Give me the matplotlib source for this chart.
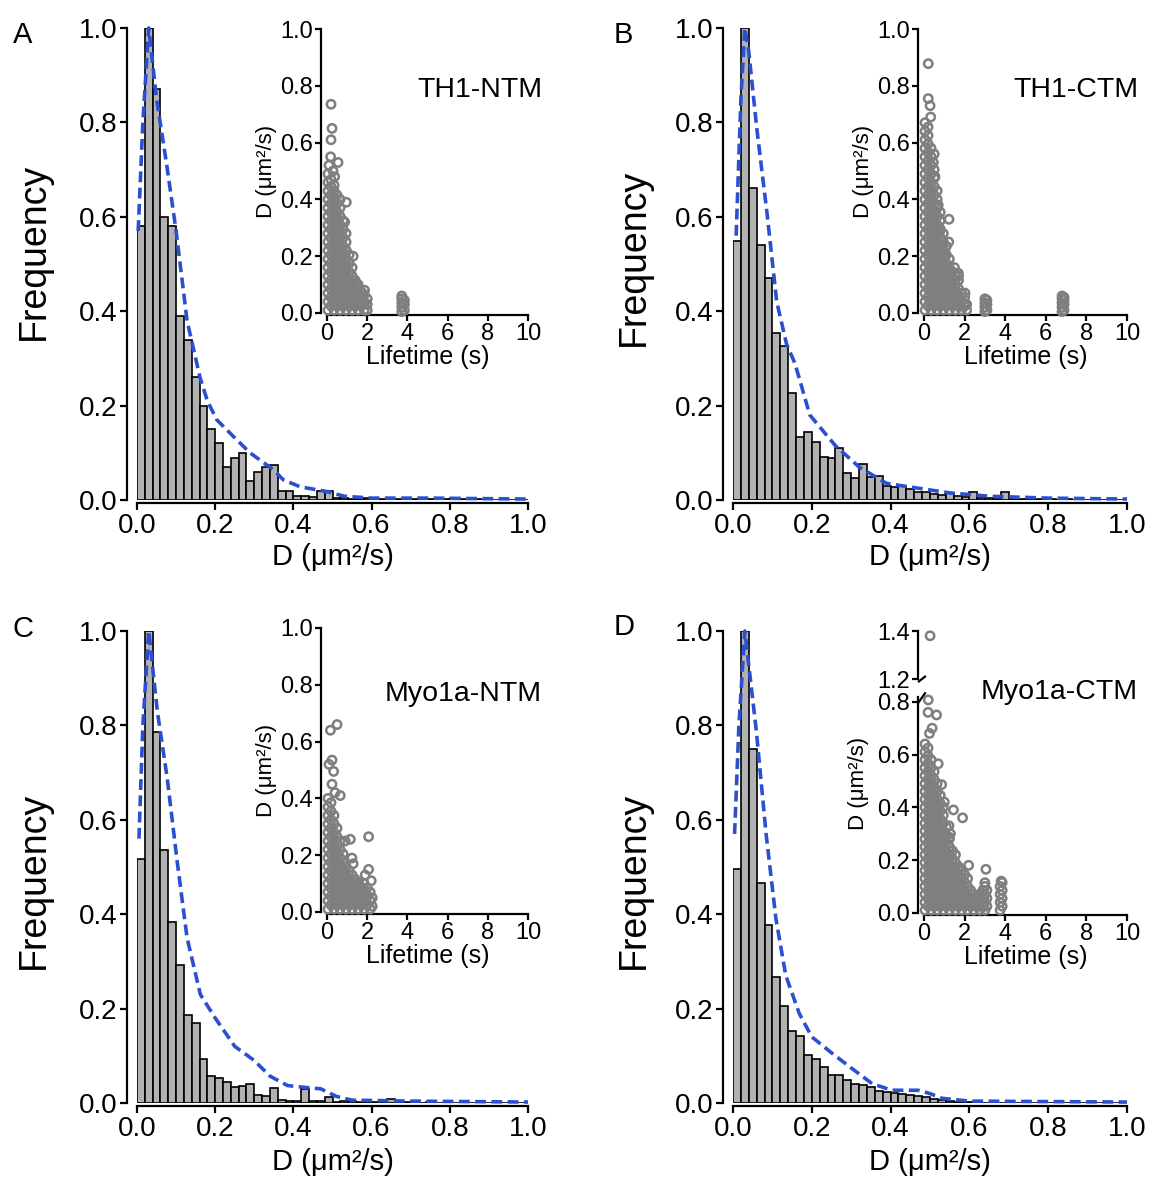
import matplotlib
matplotlib.use("Agg")
import matplotlib.pyplot as plt
import numpy as np

plt.rcParams['font.family'] = ['Liberation Sans', 'DejaVu Sans']

W, H = 1149, 1188

# ---- histogram data (bin width 0.02, 0..1) ----
bin_edges = [i * 0.02 for i in range(51)]

freq_A = [0.58, 1.00, 0.87, 0.60, 0.58, 0.39, 0.34, 0.26, 0.20, 0.15,
          0.12, 0.07, 0.09, 0.10, 0.04, 0.06, 0.07, 0.075, 0.02, 0.02,
          0.008, 0.008, 0.006, 0.02, 0.02, 0.005, 0.004, 0.003, 0.002, 0.004,
          0.002, 0.002, 0.003, 0.002, 0.002, 0.003, 0.002, 0.002, 0.001, 0.002,
          0.004, 0.002, 0.001, 0.002, 0.001, 0.001, 0.001, 0.001, 0.001, 0.001]
freq_B = [0.548, 1.0, 0.66, 0.54, 0.47, 0.354, 0.326, 0.226, 0.133, 0.145,
          0.123, 0.092, 0.088, 0.11, 0.057, 0.046, 0.076, 0.049, 0.05, 0.03,
          0.028, 0.03, 0.024, 0.017, 0.016, 0.012, 0.01, 0.014, 0.008, 0.007,
          0.017, 0.004, 0.005, 0.003, 0.017, 0.003, 0.002, 0.002, 0.002, 0.002,
          0.003, 0.001, 0.002, 0.001, 0.001, 0.001, 0.001, 0.001, 0.001, 0.001]
freq_C = [0.516, 1.0, 0.785, 0.536, 0.383, 0.292, 0.186, 0.17, 0.093, 0.057,
          0.054, 0.045, 0.033, 0.035, 0.041, 0.018, 0.014, 0.032, 0.006, 0.004,
          0.004, 0.03, 0.004, 0.005, 0.012, 0.003, 0.005, 0.004, 0.003, 0.002,
          0.003, 0.002, 0.008, 0.002, 0.002, 0.002, 0.001, 0.002, 0.001, 0.001,
          0.001, 0.001, 0.001, 0.001, 0.001, 0.001, 0.001, 0.001, 0.001, 0.001]
freq_D = [0.496, 1.0, 0.749, 0.467, 0.377, 0.268, 0.206, 0.153, 0.141, 0.101,
          0.093, 0.077, 0.059, 0.059, 0.049, 0.041, 0.039, 0.033, 0.025, 0.024,
          0.022, 0.02, 0.018, 0.015, 0.013, 0.008, 0.006, 0.004, 0.003, 0.002,
          0.002, 0.001, 0.001, 0.001, 0.001, 0.001, 0.001, 0.001, 0.001, 0.001,
          0.001, 0.001, 0.001, 0.001, 0.001, 0.001, 0.001, 0.001, 0.001, 0.001]

# ---- fitted curves (blue dashed) ----
fit_A_x = [0.003, 0.015, 0.03, 0.05, 0.076, 0.10, 0.128, 0.161, 0.18, 0.204, 0.246, 0.289,
           0.349, 0.374, 0.417, 0.485, 0.53, 0.6, 0.75, 1.0]
fit_A_y = [0.57, 0.8, 1.0, 0.85, 0.71, 0.57, 0.38, 0.26, 0.21, 0.17, 0.135, 0.10,
           0.064, 0.043, 0.028, 0.018, 0.008, 0.004, 0.004, 0.002]
fit_B_x = [0.008, 0.02, 0.03, 0.04, 0.06, 0.086, 0.111, 0.136, 0.157, 0.195, 0.26, 0.32,
           0.39, 0.47, 0.55, 0.65, 0.8, 1.0]
fit_B_y = [0.56, 0.85, 1.0, 0.95, 0.79, 0.61, 0.42, 0.33, 0.29, 0.18, 0.115, 0.07,
           0.035, 0.025, 0.015, 0.008, 0.004, 0.002]
fit_C_x = [0.005, 0.015, 0.03, 0.052, 0.077, 0.103, 0.128, 0.162, 0.2, 0.25, 0.30, 0.34,
           0.385, 0.43, 0.47, 0.51, 0.55, 0.7, 1.0]
fit_C_y = [0.56, 0.8, 1.0, 0.83, 0.69, 0.51, 0.35, 0.23, 0.18, 0.12, 0.09, 0.057,
           0.037, 0.033, 0.03, 0.014, 0.006, 0.004, 0.002]
fit_D_x = [0.004, 0.015, 0.03, 0.059, 0.084, 0.109, 0.134, 0.168, 0.2, 0.252, 0.302, 0.353,
           0.403, 0.47, 0.5, 0.53, 0.6, 0.8, 1.0]
fit_D_y = [0.57, 0.8, 1.0, 0.79, 0.57, 0.39, 0.27, 0.19, 0.14, 0.105, 0.073, 0.041,
           0.027, 0.027, 0.02, 0.01, 0.004, 0.003, 0.002]

# ---- inset scatter: D vs lifetime, dense columns + outliers ----
life_A = [0.05, 0.2, 0.35, 0.5, 0.65, 0.8, 0.95, 1.1, 1.25, 1.4, 1.55, 1.7, 1.85, 2.0, 3.72, 3.85]
dcoef_A = [
    [0.01, 0.04, 0.07, 0.10, 0.13, 0.16, 0.19, 0.22, 0.25, 0.28, 0.31, 0.34, 0.37, 0.40, 0.43, 0.46, 0.49],
    [0.025, 0.055, 0.085, 0.115, 0.145, 0.175, 0.205, 0.235, 0.265, 0.295, 0.325, 0.355, 0.385, 0.415, 0.445, 0.47],
    [0.01, 0.04, 0.07, 0.10, 0.13, 0.16, 0.19, 0.22, 0.25, 0.28, 0.31, 0.34, 0.37, 0.40, 0.43, 0.45],
    [0.025, 0.055, 0.085, 0.115, 0.145, 0.175, 0.205, 0.235, 0.265, 0.295, 0.325, 0.355, 0.385, 0.415],
    [0.01, 0.04, 0.07, 0.10, 0.13, 0.16, 0.19, 0.22, 0.25, 0.28, 0.31, 0.34, 0.37, 0.40],
    [0.025, 0.055, 0.085, 0.115, 0.145, 0.175, 0.205, 0.235, 0.265, 0.295, 0.325],
    [0.01, 0.04, 0.07, 0.10, 0.13, 0.16, 0.19, 0.22, 0.25, 0.28],
    [0.025, 0.055, 0.085, 0.115, 0.145, 0.175, 0.205],
    [0.01, 0.04, 0.07, 0.10, 0.13, 0.16],
    [0.025, 0.055, 0.085, 0.115],
    [0.01, 0.04, 0.07, 0.10],
    [0.025, 0.055, 0.075],
    [0.01, 0.04, 0.065],
    [0.01, 0.03, 0.05],
    [0.005, 0.02, 0.035, 0.05, 0.06],
    [0.01, 0.03, 0.045],
]
out_A_t = [0.2, 0.25, 0.2, 0.18, 0.55, 0.38, 0.96, 0.88, 0.96, 1.3, 1.45, 1.87, 1.87, 0.1, 0.3]
out_A_d = [0.735, 0.65, 0.61, 0.55, 0.53, 0.48, 0.39, 0.32, 0.22, 0.2, 0.105, 0.08, 0.035, 0.52, 0.5]

life_B = [0.05, 0.2, 0.35, 0.5, 0.65, 0.8, 0.95, 1.1, 1.25, 1.4, 1.55, 1.7, 1.85, 2.0, 2.1,
          3.0, 3.1, 6.8, 6.9]
dcoef_B = [
    [0.01, 0.04, 0.07, 0.10, 0.13, 0.16, 0.19, 0.22, 0.25, 0.28, 0.31, 0.34, 0.37, 0.40, 0.43, 0.46,
     0.49, 0.52, 0.55, 0.58, 0.61, 0.64, 0.67],
    [0.025, 0.055, 0.085, 0.115, 0.145, 0.175, 0.205, 0.235, 0.265, 0.295, 0.325, 0.355, 0.385,
     0.415, 0.445, 0.475, 0.505, 0.535, 0.565, 0.595, 0.625, 0.655],
    [0.01, 0.04, 0.07, 0.10, 0.13, 0.16, 0.19, 0.22, 0.25, 0.28, 0.31, 0.34, 0.37, 0.40, 0.43, 0.46,
     0.49, 0.52, 0.55, 0.58],
    [0.025, 0.055, 0.085, 0.115, 0.145, 0.175, 0.205, 0.235, 0.265, 0.295, 0.325, 0.355, 0.385,
     0.415, 0.445, 0.475, 0.505],
    [0.01, 0.04, 0.07, 0.10, 0.13, 0.16, 0.19, 0.22, 0.25, 0.28, 0.31, 0.34, 0.37, 0.40, 0.43],
    [0.025, 0.055, 0.085, 0.115, 0.145, 0.175, 0.205, 0.235, 0.265, 0.295, 0.325, 0.355],
    [0.01, 0.04, 0.07, 0.10, 0.13, 0.16, 0.19, 0.22, 0.25, 0.28],
    [0.025, 0.055, 0.085, 0.115, 0.145, 0.175, 0.205, 0.235],
    [0.01, 0.04, 0.07, 0.10, 0.13, 0.16, 0.19],
    [0.025, 0.055, 0.085, 0.115, 0.145],
    [0.01, 0.04, 0.07, 0.10, 0.13],
    [0.025, 0.055, 0.085, 0.115],
    [0.01, 0.04, 0.07],
    [0.025, 0.055],
    [0.01, 0.03],
    [0.005, 0.02, 0.035, 0.05],
    [0.01, 0.03, 0.045],
    [0.005, 0.02, 0.035, 0.05, 0.06],
    [0.01, 0.03, 0.045, 0.055],
]
out_B_t = [0.21, 0.21, 0.3, 0.33, 0.46, 0.54, 0.7, 1.23, 0.79, 1.22, 1.04, 1.69, 2.02, 2.0, 0.5, 1.5, 1.7]
out_B_d = [0.878, 0.755, 0.73, 0.69, 0.53, 0.48, 0.38, 0.33, 0.29, 0.25, 0.2, 0.14, 0.07, 0.03, 0.56, 0.16, 0.13]

life_C = [0.05, 0.2, 0.35, 0.5, 0.65, 0.8, 0.95, 1.1, 1.25, 1.4, 1.55, 1.7, 1.85, 2.0, 2.15, 2.25]
dcoef_C = [
    [0.01, 0.04, 0.07, 0.10, 0.13, 0.16, 0.19, 0.22, 0.25, 0.28, 0.31, 0.34, 0.37, 0.40],
    [0.025, 0.055, 0.085, 0.115, 0.145, 0.175, 0.205, 0.235, 0.265, 0.295, 0.325, 0.355, 0.385],
    [0.01, 0.04, 0.07, 0.10, 0.13, 0.16, 0.19, 0.22, 0.25, 0.28, 0.31, 0.34],
    [0.025, 0.055, 0.085, 0.115, 0.145, 0.175, 0.205, 0.235, 0.265, 0.295],
    [0.01, 0.04, 0.07, 0.10, 0.13, 0.16, 0.19, 0.22, 0.25],
    [0.025, 0.055, 0.085, 0.115, 0.145, 0.175, 0.205],
    [0.01, 0.04, 0.07, 0.10, 0.13, 0.16],
    [0.025, 0.055, 0.085, 0.115, 0.145],
    [0.01, 0.04, 0.07, 0.10, 0.13],
    [0.025, 0.055, 0.085, 0.115],
    [0.01, 0.04, 0.07, 0.10],
    [0.025, 0.055, 0.085],
    [0.01, 0.04, 0.07, 0.10],
    [0.025, 0.055, 0.085],
    [0.01, 0.04, 0.07],
    [0.02, 0.05],
]
out_C_t = [0.17, 0.5, 0.25, 0.1, 0.33, 0.25, 0.66, 1.16, 2.07, 1.24, 2.07, 1.57, 1.9, 0.4, 0.9, 1.3, 2.2]
out_C_d = [0.64, 0.66, 0.535, 0.52, 0.495, 0.45, 0.41, 0.256, 0.265, 0.19, 0.15, 0.104, 0.13, 0.42, 0.25, 0.17, 0.11]

life_D = [0.05, 0.2, 0.35, 0.5, 0.65, 0.8, 0.95, 1.1, 1.25, 1.4, 1.55, 1.7, 1.85, 2.0, 2.15, 2.3,
          2.45, 2.6, 2.75, 2.9, 3.0, 3.1, 3.75, 3.85]
dcoef_D = [
    [0.01, 0.04, 0.07, 0.10, 0.13, 0.16, 0.19, 0.22, 0.25, 0.28, 0.31, 0.34, 0.37, 0.40, 0.43, 0.46,
     0.49, 0.52, 0.55, 0.58, 0.61, 0.64],
    [0.025, 0.055, 0.085, 0.115, 0.145, 0.175, 0.205, 0.235, 0.265, 0.295, 0.325, 0.355, 0.385,
     0.415, 0.445, 0.475, 0.505, 0.535, 0.565, 0.595, 0.625],
    [0.01, 0.04, 0.07, 0.10, 0.13, 0.16, 0.19, 0.22, 0.25, 0.28, 0.31, 0.34, 0.37, 0.40, 0.43, 0.46,
     0.49, 0.52, 0.55, 0.58],
    [0.025, 0.055, 0.085, 0.115, 0.145, 0.175, 0.205, 0.235, 0.265, 0.295, 0.325, 0.355, 0.385,
     0.415, 0.445, 0.475, 0.505, 0.535],
    [0.01, 0.04, 0.07, 0.10, 0.13, 0.16, 0.19, 0.22, 0.25, 0.28, 0.31, 0.34, 0.37, 0.40, 0.43, 0.46, 0.49],
    [0.025, 0.055, 0.085, 0.115, 0.145, 0.175, 0.205, 0.235, 0.265, 0.295, 0.325, 0.355, 0.385,
     0.415, 0.445],
    [0.01, 0.04, 0.07, 0.10, 0.13, 0.16, 0.19, 0.22, 0.25, 0.28, 0.31, 0.34, 0.37, 0.40],
    [0.025, 0.055, 0.085, 0.115, 0.145, 0.175, 0.205, 0.235, 0.265, 0.295, 0.325],
    [0.01, 0.04, 0.07, 0.10, 0.13, 0.16, 0.19, 0.22, 0.25, 0.28],
    [0.025, 0.055, 0.085, 0.115, 0.145, 0.175, 0.205, 0.235],
    [0.01, 0.04, 0.07, 0.10, 0.13, 0.16, 0.19, 0.22],
    [0.025, 0.055, 0.085, 0.115, 0.145, 0.175],
    [0.01, 0.04, 0.07, 0.10, 0.13, 0.16],
    [0.025, 0.055, 0.085, 0.115, 0.145],
    [0.01, 0.04, 0.07, 0.10, 0.13],
    [0.025, 0.055, 0.085],
    [0.01, 0.04, 0.07],
    [0.025, 0.055],
    [0.01, 0.04, 0.07],
    [0.025, 0.055, 0.085],
    [0.01, 0.04, 0.07, 0.10],
    [0.025, 0.055, 0.085],
    [0.01, 0.04, 0.07, 0.10],
    [0.025, 0.055, 0.085, 0.115],
]
out_D_t = [0.21, 0.62, 0.2, 0.27, 0.7, 0.87, 1.45, 1.9, 1.23, 1.25, 1.7, 2.2, 3.05, 3.0, 3.8, 0.4, 1.0, 1.3]
out_D_d = [0.807, 0.75, 0.76, 0.68, 0.565, 0.486, 0.39, 0.36, 0.33, 0.286, 0.17, 0.18, 0.165, 0.114,
           0.12, 0.7, 0.42, 0.3]
top_D_t = [0.3]
top_D_d = [1.38]

names = ["TH1-NTM", "TH1-CTM", "Myo1a-NTM", "Myo1a-CTM"]
letters = ["A", "B", "C", "D"]

BAR_COLOR = "#b2b2b2"
FIT_COLOR = "#2c4fd0"
DOT_COLOR = "#7f7f7f"


def rect(l, t, r, b):
    return [l / W, 1 - b / H, (r - l) / W, (b - t) / H]


def style(ax, left_off, bottom_off, size, tick_len):
    for s in ["top", "right"]:
        ax.spines[s].set_visible(False)
    ax.spines["left"].set_position(("outward", left_off))
    ax.spines["bottom"].set_position(("outward", bottom_off))
    for s in ["left", "bottom"]:
        ax.spines[s].set_linewidth(1.6)
    ax.tick_params(direction="out", length=tick_len, width=1.6, labelsize=size, pad=2)


fig = plt.figure(figsize=(W / 100, H / 100), dpi=100)

main_boxes = [(137, 28, 528, 500), (733, 28, 1127, 500), (137, 631, 528, 1103), (733, 631, 1127, 1103)]
inset_boxes = [(327, 29, 528, 313), (924, 29, 1127, 313), (327, 628, 528, 912), (924, 696.5, 1127, 912.8)]
freqs = [freq_A, freq_B, freq_C, freq_D]
fits = [(fit_A_x, fit_A_y), (fit_B_x, fit_B_y), (fit_C_x, fit_C_y), (fit_D_x, fit_D_y)]
scat = [(life_A, dcoef_A, out_A_t, out_A_d), (life_B, dcoef_B, out_B_t, out_B_d),
        (life_C, dcoef_C, out_C_t, out_C_d), (life_D, dcoef_D, out_D_t, out_D_d)]
# right edge (x) and centre (y) of the "Frequency" label, in pixels
freq_lab = [(52, 251), (652, 257), (52, 880), (652, 880)]
# top edge of the x label, in pixels
xlab_top = [543, 543, 1148, 1148]
letter_pos = [(23, 35), (623, 35), (23, 629), (624, 627)]
name_pos = [(542, 90), (1138, 90), (542, 694), (1138, 692)]

for i in range(4):
    l, t, r, b = main_boxes[i]
    ax = fig.add_axes(rect(l, t, r, b))
    ax.bar(bin_edges[:-1], freqs[i], width=0.02, align="edge", color=BAR_COLOR,
           edgecolor="black", linewidth=1.2)
    ax.plot(fits[i][0], fits[i][1], color=FIT_COLOR, lw=2.6, dashes=(3.0, 1.5), clip_on=False)
    ax.set_xlim(0, 1)
    ax.set_ylim(0, 1)
    ax.set_xticks([0, 0.2, 0.4, 0.6, 0.8, 1.0])
    ax.set_yticks([0, 0.2, 0.4, 0.6, 0.8, 1.0])
    ax.xaxis.set_major_formatter(plt.FormatStrFormatter("%.1f"))
    ax.yaxis.set_major_formatter(plt.FormatStrFormatter("%.1f"))
    style(ax, 7.2, 2.2, 20, 5)
    ax.set_xlabel("D (μm²/s)", fontsize=21)
    ax.xaxis.set_label_coords(0.5, (b - xlab_top[i]) / (b - t))
    fx, fy = freq_lab[i]
    ax.set_ylabel("Frequency", fontsize=27)
    ax.yaxis.set_label_coords((fx - l) / (r - l), (b - fy) / (b - t))
    lx, ly = letter_pos[i]
    fig.text(lx / W, 1 - ly / H, letters[i], fontsize=21, ha="center", va="center")

    # inset
    l2, t2, r2, b2 = inset_boxes[i]
    ins = fig.add_axes(rect(l2, t2, r2, b2))
    cols_t, cols_d, o_t, o_d = scat[i]
    xs = []
    ys = []
    for tt, dd in zip(cols_t, cols_d):
        for v in dd:
            xs.append(tt)
            ys.append(v)
    xs += o_t
    ys += o_d
    ins.scatter(xs, ys, s=36, facecolors="none", edgecolors=DOT_COLOR, linewidths=1.8,
                clip_on=False, zorder=3)
    ins.set_xlim(0, 10)
    ins.set_xticks([0, 2, 4, 6, 8, 10])
    if i == 3:
        ins.set_ylim(0, 0.82)
        ins.set_yticks([0, 0.2, 0.4, 0.6, 0.8])
    else:
        ins.set_ylim(0, 1)
        ins.set_yticks([0, 0.2, 0.4, 0.6, 0.8, 1.0])
    ins.yaxis.set_major_formatter(plt.FormatStrFormatter("%.1f"))
    ins.patch.set_alpha(0)
    style(ins, 4, 1.5, 17, 4)
    ins.set_xlabel("Lifetime (s)", fontsize=18, labelpad=0)
    ins.set_ylabel("D (μm²/s)", fontsize=16, labelpad=2)
    nx, ny = name_pos[i]
    fig.text(nx / W, 1 - ny / H, names[i], fontsize=20.5, ha="right", va="center")

    if i == 3:
        ins.yaxis.set_label_coords(-0.27, 0.6)
        # upper part of the broken axis
        up = fig.add_axes(rect(924, 631, 1127, 679))
        up.scatter(top_D_t, top_D_d, s=36, facecolors="none", edgecolors=DOT_COLOR,
                   linewidths=1.8, clip_on=False)
        up.set_xlim(0, 10)
        up.set_ylim(1.2, 1.4)
        up.set_yticks([1.2, 1.4])
        up.yaxis.set_major_formatter(plt.FormatStrFormatter("%.1f"))
        up.patch.set_alpha(0)
        style(up, 4, 1.5, 17, 4)
        up.spines["bottom"].set_visible(False)
        up.set_xticks([])
        # break marks
        up.plot([-0.025, 0.005], [-0.05, 0.05], transform=up.transAxes, color="black",
                lw=1.6, clip_on=False)
        ins.plot([-0.025, 0.005], [0.975, 1.015], transform=ins.transAxes, color="black",
                 lw=1.6, clip_on=False)

fig.savefig("out.png", dpi=100)
